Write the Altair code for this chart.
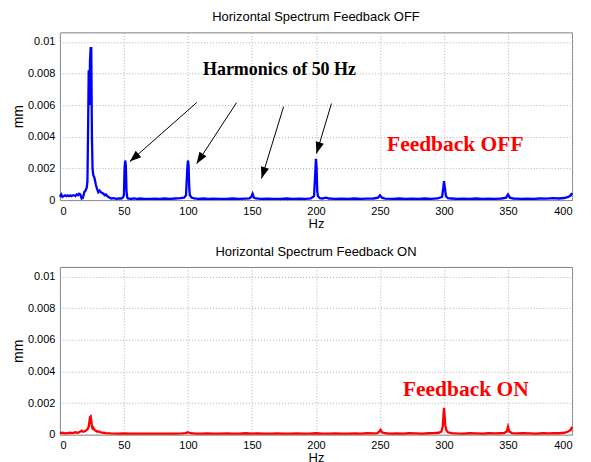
import math
import altair as alt
import pandas as pd

# ---------------- data (amplitudes in units of 1e-4 mm) ----------------
off_hz = [0, 1, 2, 3, 4, 5, 6, 7, 8, 9, 10, 11, 12, 13, 14, 15, 16, 17, 18, 19, 20, 21, 21.5,
          22, 22.5, 23, 23.5, 24, 24.5, 25, 25.5, 26, 26.5, 27, 27.5, 28, 29, 30, 31, 32, 33, 34,
          35, 36, 37, 38, 39, 40, 42, 44, 46, 48, 49, 50, 50.5, 51, 51.5, 52, 52.5, 53, 55, 58,
          60, 63, 66, 70, 74, 78, 82, 86, 90, 94, 97, 98.5, 99.5, 100, 100.5, 101, 101.5, 103,
          105, 108, 112, 116, 120, 125, 130, 135, 140, 145, 148, 149.5, 150.5, 151.5, 153, 157,
          162, 167, 172, 177, 182, 187, 192, 196, 198.5, 199.5, 200, 200.5, 201, 201.5, 203, 205,
          208, 210, 215, 220, 225, 230, 235, 240, 245, 248.5, 250, 251.5, 254, 260, 265, 270,
          275, 280, 285, 290, 295, 298.5, 299.5, 300, 300.5, 301.5, 303, 306, 310, 315, 320, 325,
          330, 335, 340, 345, 348.5, 350, 351.5, 354, 360, 365, 370, 375, 380, 385, 390, 394,
          397, 399, 400]
off_val = [2, 3.5, 2, 2.5, 3, 2.5, 3, 2.5, 3, 2.5, 3, 3, 2.5, 3.5, 3, 4, 3.5, 1, 1.5, 5, 6, 8, 12,
           44, 82, 60, 88, 96, 96, 40, 20, 16, 15, 14, 12, 10, 7, 5, 6, 5, 4.5, 4,
           3, 3.5, 2.5, 2, 1.5, 1, 1.2, 0.8, 1, 1, 1.5, 3, 20, 25, 22, 6, 2, 1, 0.8, 1,
           0.7, 1, 0.8, 0.7, 0.9, 0.7, 1, 0.8, 1, 1.2, 1.5, 3, 20, 25, 22, 8, 3, 1.5,
           1, 0.8, 1, 0.7, 0.9, 0.7, 0.8, 1, 0.7, 0.9, 1, 2, 4, 1.5, 1, 0.7,
           0.9, 0.7, 0.8, 1, 0.7, 0.9, 0.8, 1, 2.5, 18, 26, 20, 6, 2.5, 1.2, 1,
           1.5, 1, 0.8, 0.9, 0.7, 1, 0.8, 0.9, 1, 1.5, 3, 1.5, 0.9, 0.8, 1, 0.7,
           0.9, 0.8, 1, 0.8, 1, 2, 8, 12, 9, 2.5, 1.2, 1, 0.8, 0.9, 0.7, 1,
           0.8, 0.9, 0.8, 1, 1.5, 3.5, 1.5, 1, 0.8, 0.9, 0.8, 1, 0.9, 1.2, 1, 1.3,
           2, 3, 4.5]

on_hz = [0, 2, 4, 6, 8, 10, 12, 14, 16, 17, 18, 19, 20, 21, 22, 22.5, 23, 23.5, 24, 24.5, 25,
         25.5, 26, 27, 28, 29, 30, 32, 34, 36, 40, 45, 50, 55, 60, 65, 70, 75, 80, 85, 90, 95,
         98, 100, 102, 106, 110, 115, 120, 125, 130, 135, 140, 145, 150, 155, 160, 165, 170,
         175, 180, 185, 190, 195, 200, 205, 210, 215, 220, 225, 230, 235, 240, 245, 248,
         249.5, 250.5, 251.5, 254, 258, 263, 268, 273, 278, 283, 288, 292, 296, 298, 299,
         299.5, 300, 300.5, 301, 302, 303, 306, 310, 315, 320, 325, 330, 335, 340, 344, 347,
         349, 350, 351, 353, 357, 362, 367, 372, 377, 382, 386, 390, 394, 397, 399, 400]
on_val = [1, 1.2, 0.8, 1, 1.2, 1, 1.5, 1.2, 2, 2.5, 1.8, 2, 2.5, 3, 4, 5, 8, 11, 11.5, 9, 5,
          4, 4.5, 3, 2.5, 2, 2, 1.5, 1.2, 1, 0.8, 0.7, 0.8, 0.6, 0.7, 0.6, 0.7, 0.6, 0.7, 0.6, 0.7, 0.8,
          1, 1.5, 0.9, 0.7, 0.6, 0.8, 0.7, 0.6, 0.8, 0.7, 0.6, 0.9, 0.7, 0.8, 0.6, 0.7, 0.8,
          0.6, 0.7, 0.8, 0.7, 0.6, 0.9, 0.7, 0.6, 0.8, 0.7, 0.6, 0.8, 0.7, 0.9, 0.8, 1,
          2, 3, 1.5, 0.9, 0.7, 0.8, 0.7, 0.9, 0.8, 0.7, 0.9, 1, 1.2, 2, 5,
          11, 17, 12, 6, 2.5, 1.5, 1, 0.8, 0.7, 0.9, 0.8, 0.7, 0.9, 0.8, 0.9, 1,
          2, 5, 2, 1, 0.8, 0.9, 0.8, 0.7, 0.9, 0.8, 1, 0.9, 1.2, 2, 3, 5]

# annotation arrows (tail -> head) in data units
arrow_x1 = [106.8, 138.0, 174.7, 212.1]
arrow_y1 = [0.00616, 0.00616, 0.0059, 0.0061]
arrow_x2 = [54.6, 106.8, 157.5, 200.4]
arrow_y2 = [0.00243, 0.0023, 0.00136, 0.00294]

# ---------------- layout ----------------
W, H = 513, 168
YMAX = 0.0106
PX_HZ = W / 400.0
PX_MM = H / YMAX

x_scale = alt.Scale(domain=[0, 400], nice=False, zero=False)
y_scale = alt.Scale(domain=[0, YMAX], nice=False)

x_axis = alt.Axis(values=list(range(0, 401, 50)), title="Hz", format="d")
y_axis = alt.Axis(values=[0, 0.002, 0.004, 0.006, 0.008, 0.01], title="mm",
                  labelExpr="datum.value == 0 ? '0' : format(datum.value, '.3~f')")


def X(field="hz"):
    return alt.X(f"{field}:Q", scale=x_scale, axis=x_axis, title="Hz")


def Y(field="mm"):
    return alt.Y(f"{field}:Q", scale=y_scale, axis=y_axis, title="mm")


off_df = pd.DataFrame({"hz": off_hz, "mm": [v * 1e-4 for v in off_val]})
on_df = pd.DataFrame({"hz": on_hz, "mm": [v * 1e-4 for v in on_val]})

angles = []
for a, b, c, d in zip(arrow_x1, arrow_y1, arrow_x2, arrow_y2):
    dx = (c - a) * PX_HZ
    dy = -(d - b) * PX_MM
    angles.append(math.degrees(math.atan2(dx, -dy)) % 360)

arrows_df = pd.DataFrame({"hz": arrow_x1, "mm": arrow_y1, "hz2": arrow_x2, "mm2": arrow_y2,
                          "angle": angles})

line_off = alt.Chart(off_df).mark_line(color="#0000ff", strokeWidth=2.3, interpolate="linear").encode(
    x=X(), y=Y())
line_on = alt.Chart(on_df).mark_line(color="#ff0000", strokeWidth=2.3, interpolate="linear").encode(
    x=X(), y=Y())

rules = alt.Chart(arrows_df).mark_rule(color="black", strokeWidth=1).encode(
    x=X(), y=Y(), x2="hz2:Q", y2="mm2:Q")
heads = alt.Chart(arrows_df).mark_point(
    shape="M0,0 L-0.8,2.2 L0.8,2.2 Z", filled=True, size=110, color="black", opacity=1,
    strokeWidth=0).encode(
    x=alt.X("hz2:Q", scale=x_scale, axis=x_axis, title="Hz"),
    y=alt.Y("mm2:Q", scale=y_scale, axis=y_axis, title="mm"),
    angle=alt.Angle("angle:Q", scale=None))

harm_text = alt.Chart(pd.DataFrame({"hz": [171.5], "mm": [0.0082], "t": ["Harmonics of 50 Hz"]})).mark_text(
    font="Liberation Serif", fontWeight="bold", fontSize=18, color="black", align="center",
    baseline="middle").encode(x=X(), y=Y(), text="t:N")

off_text = alt.Chart(pd.DataFrame({"hz": [308.8], "mm": [0.0035], "t": ["Feedback OFF"]})).mark_text(
    font="Liberation Serif", fontWeight="bold", fontSize=21.5, color="#ff0000", align="center",
    baseline="middle").encode(x=X(), y=Y(), text="t:N")

on_text = alt.Chart(pd.DataFrame({"hz": [317.0], "mm": [0.0028], "t": ["Feedback ON"]})).mark_text(
    font="Liberation Serif", fontWeight="bold", fontSize=21.5, color="#ff0000", align="center",
    baseline="middle").encode(x=X(), y=Y(), text="t:N")

top = alt.layer(line_off, rules, heads, harm_text, off_text).properties(
    width=W, height=H, title="Horizontal Spectrum Feedback OFF")
bottom = alt.layer(line_on, on_text).properties(
    width=W, height=H, title="Horizontal Spectrum Feedback ON")

chart = alt.vconcat(top, bottom, spacing=14).properties(
    padding={"left": 2, "top": 2, "right": 5, "bottom": 5}
).configure(
    font="Liberation Sans", background="white"
).configure_view(
    stroke="#808080", strokeWidth=1
).configure_axis(
    labelFont="Liberation Sans", labelFontSize=11, labelColor="black",
    titleFont="Liberation Sans", titleFontSize=13, titleFontWeight="normal", titleColor="black",
    grid=True, gridColor="#b0b0b0", gridDash=[1, 2], gridWidth=1,
    domain=False, ticks=False, tickSize=0, labelPadding=5
).configure_axisY(
    titlePadding=2, titleFontSize=14
).configure_axisX(
    titlePadding=1
).configure_title(
    font="Liberation Sans", fontSize=13, fontWeight="normal", color="black", offset=8, anchor="middle"
)

chart.save("out.html", embed_options={"renderer": "svg", "actions": False})
